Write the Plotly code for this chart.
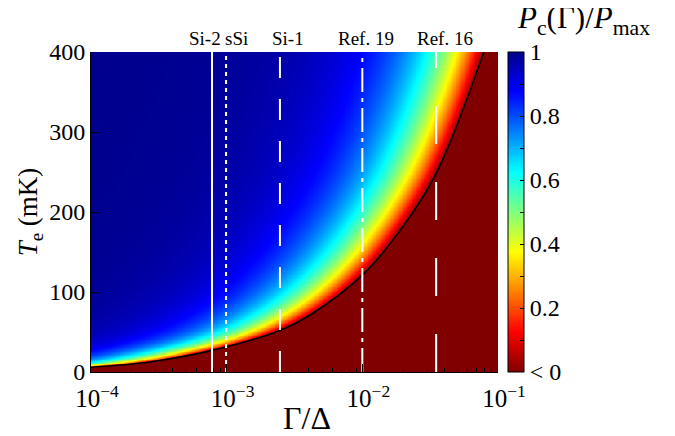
import numpy as np
import plotly.graph_objects as go

# ---- data ----
# black curve: where P_c(Gamma) crosses zero
boundary_gamma = [1.0e-4, 2.7e-4, 7.8e-4, 2.47e-3, 4.1e-3, 1.0e-2, 1.9e-2, 3.5e-2, 7.87e-2]
boundary_T = [6, 12.5, 27, 52, 71, 121, 177, 248, 400]

# vertical reference lines
ref_labels = ["Si-2", "sSi", "Si-1", "Ref. 19", "Ref. 16"]
ref_gamma = [7.8e-4, 9.9e-4, 2.47e-3, 1.0e-2, 3.5e-2]

x_tick_vals = [1e-4, 1e-3, 1e-2, 1e-1]
x_tick_text = ["10<sup>\u22124</sup>", "10<sup>\u22123</sup>", "10<sup>\u22122</sup>", "10<sup>\u22121</sup>"]
y_tick_vals = [0, 100, 200, 300, 400]
cb_tick_vals = [0, 0.1, 0.2, 0.3, 0.4, 0.5, 0.6, 0.7, 0.8, 0.9, 1.0]
cb_tick_text = ["< 0", "", "0.2", "", "0.4", "", "0.6", "", "0.8", "", "1"]

# ---- styles ----
ref_dash = ["solid", "4px,4px", "21px,21px", "24px,6px,4px,6px", "38px,38px"]
ref_label_shift = [-7, 10, 8, 4, 9]
FONT = "Liberation Serif"

# ---- field P_c(Gamma)/P_max = 1 - Gamma/Gamma0(T), Gamma0 from the curve ----
gx = np.logspace(-4, -1, 500)
ty = np.linspace(0.5, 400, 400)
g0 = 10 ** np.interp(np.log10(ty), np.log10(boundary_T), np.log10(boundary_gamma),
                     left=-6)
z = 1.0 - gx[None, :] / g0[:, None]
z = np.clip(z, -0.05, 1.0)

jet_r = [[0.0, "rgb(128,0,0)"], [0.125, "rgb(255,0,0)"], [0.375, "rgb(255,255,0)"],
         [0.625, "rgb(0,255,255)"], [0.875, "rgb(0,0,255)"], [1.0, "rgb(0,0,140)"]]

fig = go.Figure()
fig.add_trace(go.Heatmap(
    x=gx, y=ty, z=z, zmin=0, zmax=1, colorscale=jet_r, zsmooth="best",
    colorbar=dict(
        x=1.0, xanchor="left", xpad=10, y=0.5, yanchor="middle", ypad=0,
        len=320, lenmode="pixels", thickness=16,
        outlinecolor="black", outlinewidth=1,
        tickvals=cb_tick_vals, ticktext=cb_tick_text,
        ticks="inside", ticklen=4, tickcolor="black",
        tickfont=dict(family=FONT, size=24, color="black"),
    ),
    hoverinfo="skip",
))

fig.add_trace(go.Scatter(
    x=boundary_gamma, y=boundary_T, mode="lines",
    line=dict(color="black", width=1.6, shape="spline", smoothing=1.0),
    showlegend=False, hoverinfo="skip",
))

for g, d in zip(ref_gamma, ref_dash):
    fig.add_trace(go.Scatter(
        x=[g, g], y=[0, 400], mode="lines",
        line=dict(color="white", width=2, dash=d),
        showlegend=False, hoverinfo="skip",
    ))

for lab, g, s in zip(ref_labels, ref_gamma, ref_label_shift):
    fig.add_annotation(
        x=np.log10(g), xref="x", y=1, yref="paper", yanchor="bottom", yshift=1,
        xshift=s, text=lab, showarrow=False,
        font=dict(family=FONT, size=19, color="black"),
    )

# colour-bar title
fig.add_annotation(
    x=1.211, xref="paper", y=1.10, yref="paper", xanchor="center", yanchor="middle",
    text="<i>P</i><sub>c</sub>(\u0393)/<i>P</i><sub>max</sub>", showarrow=False,
    font=dict(family=FONT, size=31, color="black"),
)

# x-axis title
fig.add_annotation(
    x=0.531, xref="paper", y=-0.144, yref="paper", xanchor="center", yanchor="middle",
    text="\u0393/\u0394", showarrow=False,
    font=dict(family=FONT, size=32, color="black"),
)

fig.update_xaxes(
    type="log", range=[-4, -1], tickvals=x_tick_vals, ticktext=x_tick_text,
    ticks="inside", ticklen=8, tickcolor="black", tickwidth=1,
    minor=dict(tickvals=[m * 10 ** k for k in (-4, -3, -2) for m in range(2, 10)],
               ticks="inside", ticklen=4, tickcolor="black"),
    showline=True, linecolor="black", linewidth=1, showgrid=False, zeroline=False,
    tickfont=dict(family=FONT, size=25, color="black"), ticklabelshift=6,
    ticklabelstandoff=4, automargin=False,
)
fig.update_yaxes(
    range=[0, 400], tickvals=y_tick_vals,
    ticks="inside", ticklen=8, tickcolor="black", tickwidth=1,
    showline=True, linecolor="black", linewidth=1, showgrid=False, zeroline=False,
    tickfont=dict(family=FONT, size=24, color="black"), automargin=False,
    title=dict(text="<i>T</i><sub>e</sub> (mK)", font=dict(family=FONT, size=27, color="black"), standoff=3),
)

# page body adds an 8 px offset; margins compensate so the plot sits at 91..498 x 52..372
fig.update_layout(
    width=675, height=436,
    margin=dict(l=83, r=185, t=44, b=72, autoexpand=False),
    paper_bgcolor="white", plot_bgcolor="white",
    showlegend=False,
)

fig.write_html("out.html")
